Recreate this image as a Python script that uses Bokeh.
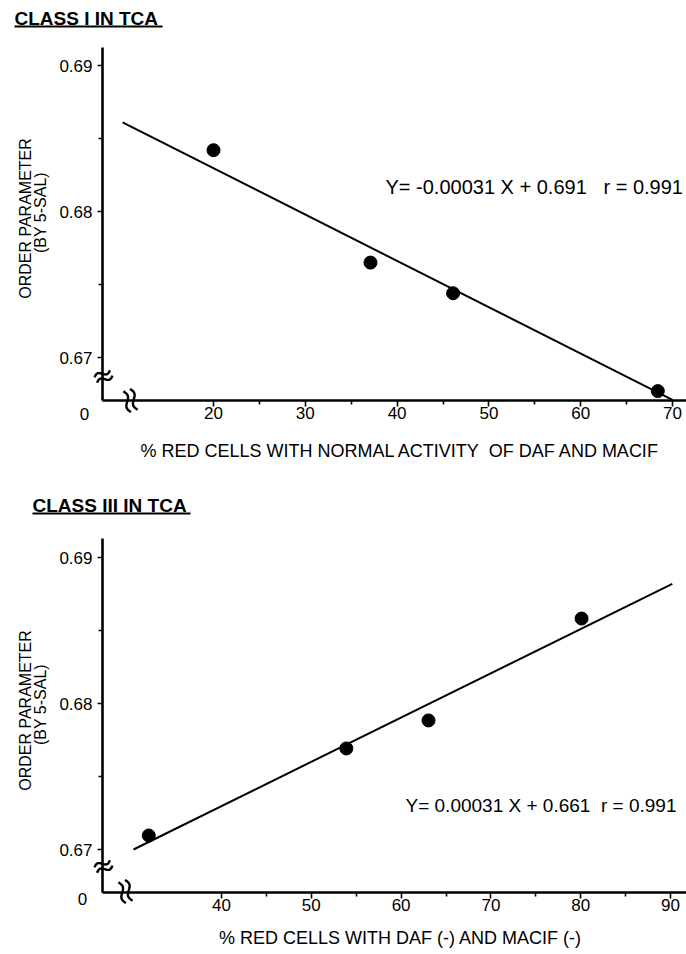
import math
import numpy as np
from bokeh.plotting import figure
from bokeh.models import FixedTicker, LinearAxis, Range1d
from bokeh.core.properties import value
from bokeh.layouts import column
from bokeh.embed import file_html
from bokeh.resources import INLINE

FONT = "Liberation Sans"
NB = "\u00a0"

# ---------------- data: panel 1 ----------------
title1 = "CLASS I IN TCA"
x1_pts = [20.0, 37.1, 46.1, 68.4]
y1_pts = [0.6842, 0.6765, 0.6744, 0.6677]
x1_fit = [10.1, 70.0]
y1_fit = [0.6861, 0.6671]
x1_ticks = [20, 30, 40, 50, 60, 70]
x1_minor = [25, 35, 45, 55, 65]
eq1 = "Y= -0.00031 X + 0.691" + NB * 3 + "r = 0.991"
xlabel1 = "% RED CELLS WITH NORMAL ACTIVITY" + NB * 2 + "OF DAF AND MACIF"

# ---------------- data: panel 2 ----------------
title2 = "CLASS III IN TCA"
x2_pts = [31.9, 53.9, 63.05, 80.1]
y2_pts = [0.67096, 0.67692, 0.67884, 0.68582]
x2_fit = [30.2, 90.2]
y2_fit = [0.6700, 0.6882]
x2_ticks = [40, 50, 60, 70, 80, 90]
x2_minor = [45, 55, 65, 75, 85]
eq2 = "Y= 0.00031 X + 0.661" + NB * 2 + "r = 0.991"
xlabel2 = "% RED CELLS WITH DAF (-) AND MACIF (-)"

y_ticks = [0.67, 0.68, 0.69]
y_minor = [0.675, 0.685]
ylabel_a = "ORDER PARAMETER"
ylabel_b = "(BY 5-SAL)"

W, H = 686, 477


def panel(L, pts_x, pts_y, fit_x, fit_y, xt, xm, title, eq, xlabel):
    # pixel calibration of the panel (layout constants)
    (xv0, xp0), (xv1, xp1) = L["xcal"]
    (yv0, yp0), (yv1, yp1) = L["ycal"]
    ppx = (xp1 - xp0) / (xv1 - xv0)
    ppy = (yp1 - yp0) / (yv0 - yv1)      # pixels per unit (y grows upward)
    X = lambda px: xv0 + (px - xp0) / ppx
    Y = lambda py: yv0 + (yp0 - py) / ppy

    p = figure(width=W, height=H, x_range=Range1d(X(0), X(W)), y_range=Range1d(Y(H), Y(0)),
               output_backend="svg", toolbar_location=None,
               x_axis_location=None, y_axis_location=None, min_border=0)
    p.outline_line_color = None
    p.background_fill_color = "white"
    p.border_fill_color = "white"
    p.grid.visible = False

    cx, cy = L["corner"]
    x_axis_at = Y(cy)
    y_axis_at = X(cx)

    xa = LinearAxis(fixed_location=x_axis_at, bounds=(X(cx), X(L["xend"])),
                    ticker=FixedTicker(ticks=xt, minor_ticks=xm))
    ya = LinearAxis(fixed_location=y_axis_at, bounds=(Y(cy), Y(L["ytop"])),
                    ticker=FixedTicker(ticks=y_ticks, minor_ticks=y_minor))
    for ax in (xa, ya):
        ax.axis_line_width = 2.6
        ax.axis_line_color = "black"
        ax.major_tick_line_width = 1.6
        ax.minor_tick_line_width = 1.6
        ax.major_tick_in = 0
        ax.minor_tick_in = 0
        ax.major_label_text_font = FONT
        ax.major_label_text_font_size = "17px"
        ax.major_label_text_color = "black"
    xa.major_tick_out = 6
    xa.minor_tick_out = 4
    xa.major_label_standoff = 0
    ya.major_tick_out = 5
    ya.minor_tick_out = 4
    ya.major_label_standoff = 5
    ya.major_label_overrides = {0.67: "0.67", 0.68: "0.68", 0.69: "0.69"}
    p.add_layout(xa, "below")
    p.add_layout(ya, "left")

    # regression line and points
    p.line(fit_x, fit_y, line_color="black", line_width=2)
    p.scatter(pts_x, pts_y, size=13, fill_color="black", line_color="black")

    def txt(px, py, s, size, align="left", angle=0.0, style="normal"):
        p.text(x=[X(px)], y=[Y(py)], text=[s], angle=angle,
               text_font=value(FONT), text_font_size=value(size),
               text_font_style=style, text_align=align,
               text_baseline="middle", text_color="black")

    # equation
    txt(*L["eq"], eq, L["eq_size"])
    # x axis label
    txt(*L["xlab"], xlabel, "18px", align="center")
    # title + underline
    txt(*L["title"], title, "19px", style="bold")
    ux0, ux1, uy = L["uline"]
    p.segment(x0=[X(ux0)], y0=[Y(uy)], x1=[X(ux1)], y1=[Y(uy)],
              line_color="black", line_width=1.8)
    # y axis label (two lines)
    txt(*L["ylab_a"], ylabel_a, "16px", align="center", angle=math.pi / 2)
    txt(*L["ylab_b"], ylabel_b, "16px", align="center", angle=math.pi / 2)
    # origin "0"
    txt(*L["zero"], "0", "17px", align="center")

    # axis-break marks: two short wavy strokes
    def brk(center, ang_deg, length, sep, amp):
        bx, by = center
        a = math.radians(ang_deg)
        ux, uy_ = math.cos(a), math.sin(a)
        nx, ny = -uy_, ux
        t = np.linspace(-1, 1, 25)
        along = t * length / 2
        wave = amp * np.sin(np.pi * t)
        for k in (-0.5, 0.5):
            px = bx + along * ux + (wave + k * sep) * nx
            py = by + along * uy_ + (wave + k * sep) * ny
            p.line([X(v) for v in px], [Y(v) for v in py], line_color="black", line_width=2.4)

    brk(L["ybreak"], -25, 17, 6, 2.4)
    brk(L["xbreak"], 70, 22, 7, 2.6)
    return p


L1 = dict(xcal=((20, 213), (70, 672)), ycal=((0.69, 65), (0.67, 357)),
          corner=(102, 400), xend=686, ytop=47,
          eq=(385, 186), eq_size="20px", xlab=(400, 450), title=(14, 18), uline=(14, 162, 26),
          ylab_a=(25, 218), ylab_b=(40, 212), zero=(84, 413),
          ybreak=(103, 376), xbreak=(130, 400))
L2 = dict(xcal=((40, 221), (90, 670)), ycal=((0.69, 80), (0.67, 372)),
          corner=(102, 415), xend=686, ytop=61,
          eq=(405, 328), eq_size="19px", xlab=(400, 460), title=(32, 28), uline=(32, 190, 36),
          ylab_a=(25, 233), ylab_b=(40, 227), zero=(82, 421),
          ybreak=(103, 389), xbreak=(125, 414))

p1 = panel(L1, x1_pts, y1_pts, x1_fit, y1_fit, x1_ticks, x1_minor, title1, eq1, xlabel1)
p2 = panel(L2, x2_pts, y2_pts, x2_fit, y2_fit, x2_ticks, x2_minor, title2, eq2, xlabel2)

layout = column(p1, p2, spacing=0)
open("out.html", "w").write(file_html(layout, INLINE))
